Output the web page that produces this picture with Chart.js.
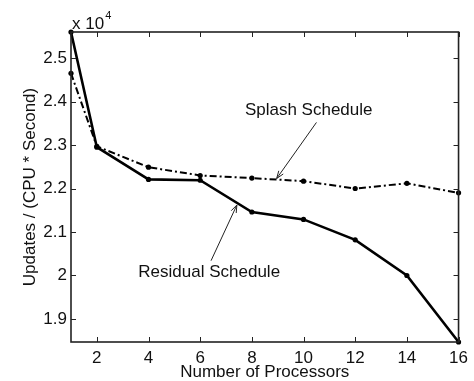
<!DOCTYPE html>
<html>
<head>
<meta charset="utf-8">
<script src="https://cdn.jsdelivr.net/npm/chart.js@4/dist/chart.umd.min.js"></script>
<style>
  html, body { margin: 0; padding: 0; background: #fff; }
  #wrap { width: 474px; height: 381px; position: relative; }
</style>
</head>
<body>
<div id="wrap"><canvas id="c" width="474" height="381"></canvas></div>
<script>
// Processor counts on the x axis
const processors = [1, 2, 4, 6, 8, 10, 12, 14, 16];
// Updates per CPU-second for each scheduler
const residualSchedule = [25600, 22950, 22210, 22190, 21460, 21290, 20820, 20000, 18470];
const splashSchedule   = [24650, 22970, 22490, 22300, 22240, 22170, 22000, 22120, 21900];
// Tick labels
const xTicks = [2, 4, 6, 8, 10, 12, 14, 16];
const yTicks = [19000, 20000, 21000, 22000, 23000, 24000, 25000];
const yTickLabels = ['1.9', '2', '2.1', '2.2', '2.3', '2.4', '2.5'];

const FONT = '"Liberation Sans", Arial, Helvetica, sans-serif';
const FS = 17;
const INK = '#111';

// Callout text and arrows, in data units
const callouts = [
  { text: 'Splash Schedule',   tx: 10.2, ty: 23800, from: [10.5, 23520], to: [8.96, 22230] },
  { text: 'Residual Schedule', tx: 6.35, ty: 20080, from: [6.42, 20340], to: [7.42, 21620] }
];

const toPts = (ys) => processors.map((x, i) => ({ x, y: ys[i] }));

// Boxed axes with inward ticks on all four sides, exponent label and callouts
const framePlugin = {
  id: 'frame',
  afterDatasetsDraw(chart) {
    const { ctx, chartArea: a, scales: { x, y } } = chart;
    ctx.save();
    ctx.strokeStyle = '#222';
    ctx.lineWidth = 1.6;
    ctx.strokeRect(a.left, a.top, a.right - a.left, a.bottom - a.top);
    ctx.lineWidth = 1;
    const tl = 5;
    ctx.beginPath();
    xTicks.forEach(v => {
      const px = Math.round(x.getPixelForValue(v)) + 0.5;
      ctx.moveTo(px, a.bottom); ctx.lineTo(px, a.bottom - tl);
      ctx.moveTo(px, a.top); ctx.lineTo(px, a.top + tl);
    });
    yTicks.forEach(v => {
      const py = Math.round(y.getPixelForValue(v)) + 0.5;
      ctx.moveTo(a.left, py); ctx.lineTo(a.left + tl, py);
      ctx.moveTo(a.right, py); ctx.lineTo(a.right - tl, py);
    });
    ctx.stroke();

    // exponent marker
    ctx.fillStyle = INK;
    ctx.textBaseline = 'alphabetic';
    ctx.textAlign = 'left';
    ctx.font = FS + 'px ' + FONT;
    ctx.fillText('x 10', a.left + 1, a.top - 3);
    const w = ctx.measureText('x 10').width;
    ctx.font = '11px ' + FONT;
    ctx.fillText('4', a.left + 1 + w + 1, a.top - 13);

    // callouts
    callouts.forEach(c => {
      const x0 = x.getPixelForValue(c.from[0]), y0 = y.getPixelForValue(c.from[1]);
      const x1 = x.getPixelForValue(c.to[0]), y1 = y.getPixelForValue(c.to[1]);
      ctx.strokeStyle = '#222';
      ctx.lineWidth = 1;
      ctx.beginPath(); ctx.moveTo(x0, y0); ctx.lineTo(x1, y1); ctx.stroke();
      const ang = Math.atan2(y1 - y0, x1 - x0), hl = 8, hw = 0.35;
      ctx.beginPath();
      ctx.moveTo(x1, y1);
      ctx.lineTo(x1 - hl * Math.cos(ang - hw), y1 - hl * Math.sin(ang - hw));
      ctx.moveTo(x1, y1);
      ctx.lineTo(x1 - hl * Math.cos(ang + hw), y1 - hl * Math.sin(ang + hw));
      ctx.stroke();
      ctx.font = FS + 'px ' + FONT;
      ctx.textAlign = 'center';
      ctx.textBaseline = 'middle';
      ctx.fillStyle = INK;
      ctx.fillText(c.text, x.getPixelForValue(c.tx), y.getPixelForValue(c.ty));
    });
    ctx.restore();
  }
};

new Chart(document.getElementById('c'), {
  type: 'line',
  data: {
    datasets: [
      {
        label: 'Residual Schedule',
        data: toPts(residualSchedule),
        borderColor: '#000',
        backgroundColor: '#000',
        borderWidth: 2.6,
        pointRadius: 2.6,
        pointBorderWidth: 0,
        tension: 0
      },
      {
        label: 'Splash Schedule',
        data: toPts(splashSchedule),
        borderColor: '#000',
        backgroundColor: '#000',
        borderWidth: 2,
        borderDash: [7, 3, 2, 3],
        pointRadius: 2.6,
        pointBorderWidth: 0,
        tension: 0
      }
    ]
  },
  options: {
    responsive: false,
    animation: false,
    clip: false,
    layout: { padding: { top: 32, right: 12, left: 0, bottom: 0 } },
    plugins: { legend: { display: false }, tooltip: { enabled: false } },
    scales: {
      x: {
        type: 'linear',
        min: 1, max: 16,
        grid: { display: false, drawTicks: false },
        border: { display: false },
        afterBuildTicks: s => { s.ticks = xTicks.map(v => ({ value: v })); },
        afterFit: s => { s.height = 39; },
        ticks: { color: INK, font: { family: FONT, size: FS }, padding: 6, maxRotation: 0, autoSkip: false },
        title: { display: true, text: 'Number of Processors', color: INK, font: { family: FONT, size: FS }, padding: { top: 0, bottom: -2 } }
      },
      y: {
        type: 'linear',
        min: 18470, max: 25600,
        grid: { display: false, drawTicks: false },
        border: { display: false },
        afterBuildTicks: s => { s.ticks = yTicks.map(v => ({ value: v })); },
        afterFit: s => { s.width = 71; },
        ticks: {
          color: INK, font: { family: FONT, size: FS }, padding: 4, autoSkip: false,
          callback: v => yTickLabels[yTicks.indexOf(v)]
        },
        title: { display: true, text: 'Updates / (CPU * Second)', color: INK, font: { family: FONT, size: FS }, padding: { top: 20, bottom: 0 } }
      }
    }
  },
  plugins: [framePlugin]
});
</script>
</body>
</html>
